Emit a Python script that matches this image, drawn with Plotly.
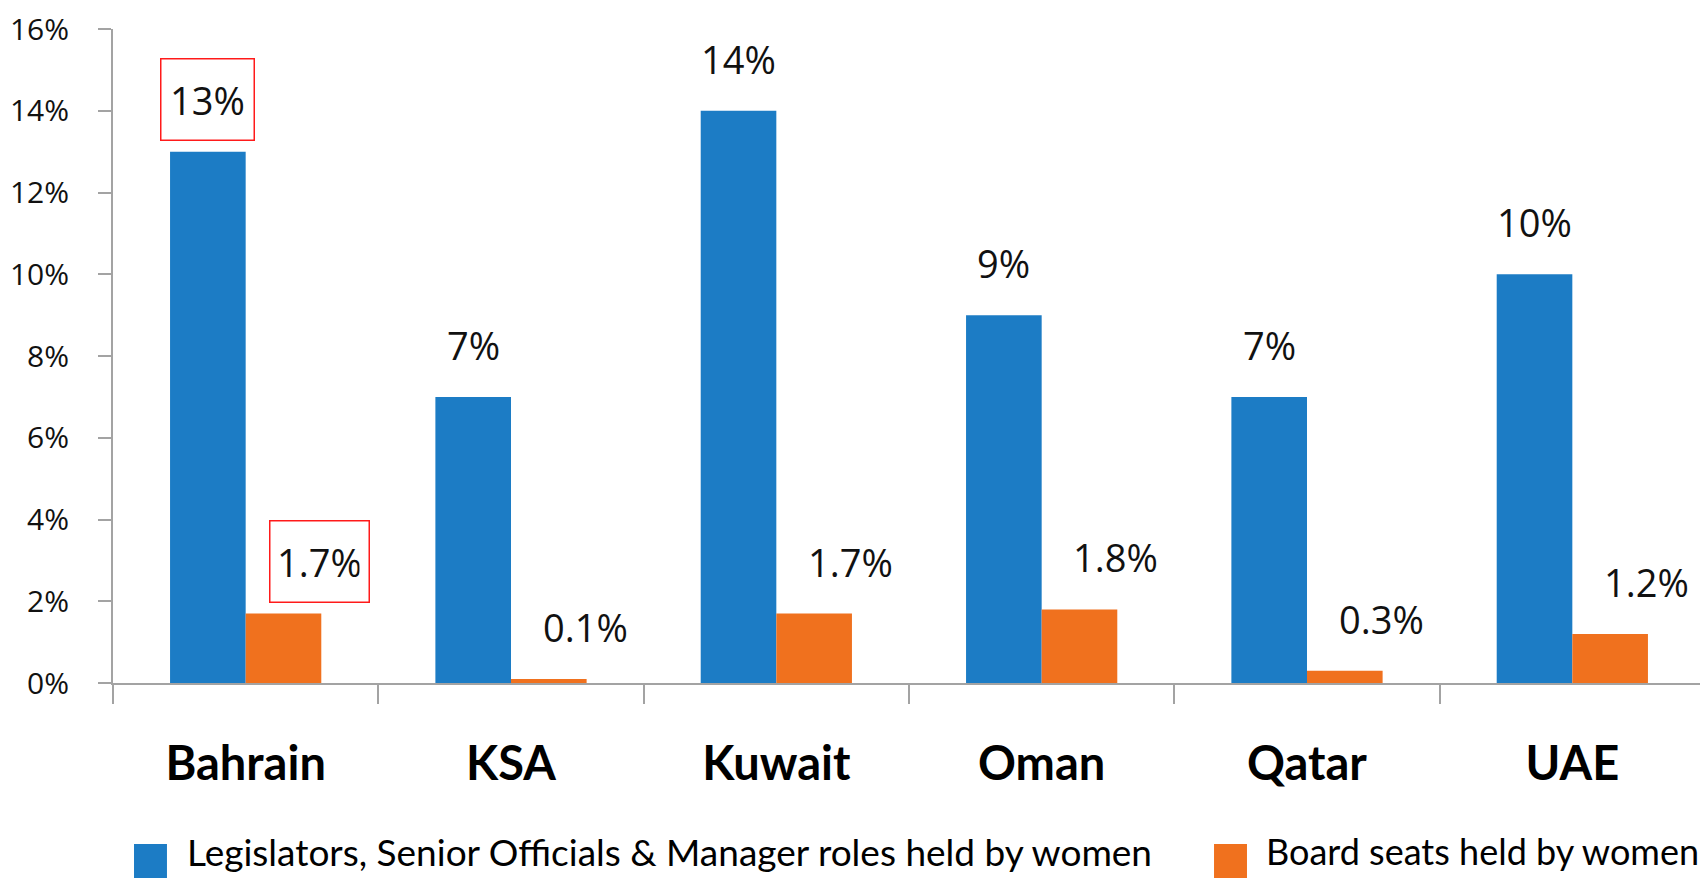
import plotly.graph_objects as go

countries = ["Bahrain", "KSA", "Kuwait", "Oman", "Qatar", "UAE"]
legislators = [13, 7, 14, 9, 7, 10]
board_seats = [1.7, 0.1, 1.7, 1.8, 0.3, 1.2]
legislators_labels = ["13%", "7%", "14%", "9%", "7%", "10%"]
board_labels = ["1.7%", "0.1%", "1.7%", "1.8%", "0.3%", "1.2%"]
y_ticks = [0, 2, 4, 6, 8, 10, 12, 14, 16]
series_names = ["Legislators, Senior Officials & Manager roles held by women",
                "Board seats held by women"]
highlight_index = 0

BLUE = "#1C7CC5"
ORANGE = "#F0711E"
AXIS = "#A3A3A3"
LABEL_FONT = "Open Sans"
CAT_FONT = "Lato"

fig = go.Figure()
fig.add_trace(go.Bar(x=countries, y=legislators, name=series_names[0],
                     marker=dict(color=BLUE, line=dict(width=0)), showlegend=False))
fig.add_trace(go.Bar(x=countries, y=board_seats, name=series_names[1],
                     marker=dict(color=ORANGE, line=dict(width=0)), showlegend=False))

annotations = []
for i, c in enumerate(countries):
    hl = (i == highlight_index)
    a = dict(x=c, y=legislators[i], xref="x", yref="y", text=legislators_labels[i],
             showarrow=False, xshift=-38, yshift=52, yanchor="middle",
             font=dict(family=LABEL_FONT, size=38, color="#111111"))
    if hl:
        a.update(bordercolor="#FF1A1A", borderwidth=1.5, borderpad=9, width=74, height=62)
    annotations.append(a)
    b = dict(x=c, y=board_seats[i], xref="x", yref="y", text=board_labels[i],
             showarrow=False, xshift=74, yshift=52, yanchor="middle",
             font=dict(family=LABEL_FONT, size=38, color="#111111"))
    if hl:
        b.update(bordercolor="#FF1A1A", borderwidth=1.5, borderpad=9, width=80, height=62)
    annotations.append(b)

# manual legend
legend_items = [(0.0132, 0.0339, 0.0452, BLUE, series_names[0], 37),
                (0.6916, 0.7123, 0.7230, ORANGE, series_names[1], 36)]
shapes = []
for x0, x1, xt, col, name, fs in legend_items:
    shapes.append(dict(type="rect", xref="paper", yref="paper", x0=x0, x1=x1,
                       y0=-0.30, y1=-0.246, fillcolor=col, line=dict(width=0)))
    annotations.append(dict(x=xt, y=-0.257, xref="paper", yref="paper", text=name,
                            showarrow=False, xanchor="left", yanchor="middle",
                            font=dict(family=CAT_FONT, size=fs, color="#000000")))

fig.update_layout(
    width=1700, height=870,
    margin=dict(l=105, r=3, t=21, b=195),
    paper_bgcolor="white", plot_bgcolor="white",
    barmode="group", bargap=0.43, bargroupgap=0,
    annotations=annotations, shapes=shapes,
    showlegend=False,
)
fig.update_xaxes(
    type="category", showline=True, linecolor=AXIS, linewidth=2,
    ticks="outside", tickson="boundaries", ticklen=19, tickwidth=2, tickcolor=AXIS,
    showgrid=False, zeroline=False, automargin=False,
    tickfont=dict(family=CAT_FONT, size=47, color="#000000", weight="bold"),
    ticklabelstandoff=39,
)
fig.update_yaxes(
    range=[0, 16.0001], tickvals=y_ticks, ticktext=[f"{v}%" for v in y_ticks],
    showline=True, linecolor=AXIS, linewidth=2,
    ticks="outside", ticklen=13, tickwidth=2, tickcolor=AXIS,
    showgrid=False, zeroline=False, automargin=False,
    tickfont=dict(family=LABEL_FONT, size=30, color="#111111"),
    ticklabelstandoff=23, ticklabeloverflow="allow",
)

fig.write_html("out.html")
